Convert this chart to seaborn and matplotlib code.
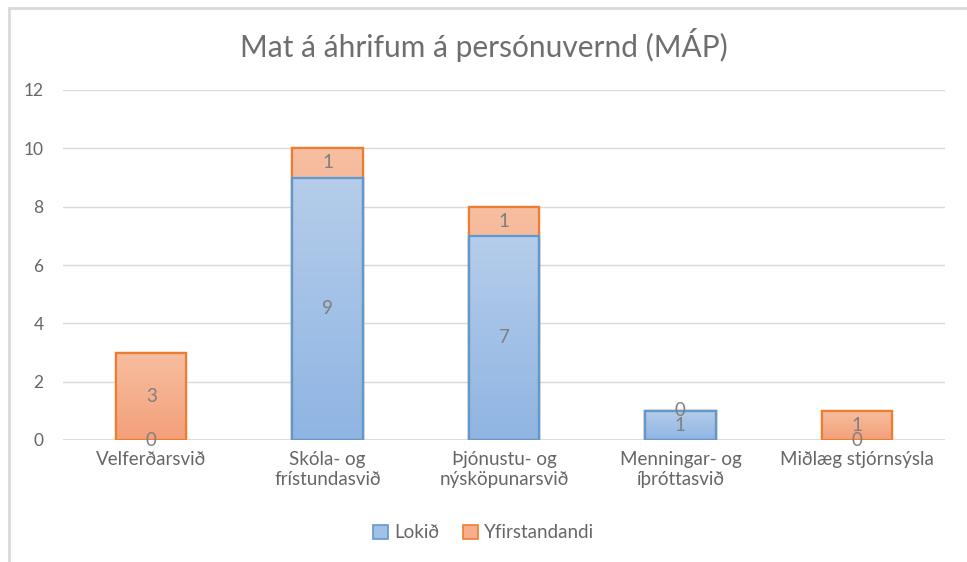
# map_chart.py
# stacked bars for the MÁP status per division
# excel-ish look: gradient fills, gray text, legend under the axis

import numpy as np
import pandas as pd
import matplotlib
matplotlib.use('Agg')
import matplotlib.pyplot as plt
from matplotlib.patches import Patch
from matplotlib.colors import LinearSegmentedColormap
import seaborn as sns

sns.set_theme(style='white')
plt.rcParams['font.family'] = ['Lato', 'DejaVu Sans']

# data
divisions = ['Velferðarsvið', 'Skóla- og\nfrístundasvið', 'Þjónustu- og\nnýsköpunarsvið',
             'Menningar- og\níþróttasvið', 'Miðlæg stjórnsýsla']
lokid = [0, 9, 7, 1, 0]
yfirstandandi = [3, 1, 1, 0, 1]
series_names = ['Lokið', 'Yfirstandandi']

df = pd.DataFrame({'svid': divisions, 'lokid': lokid, 'yfir': yfirstandandi})
df['total'] = df['lokid'] + df['yfir']

BLUE_EDGE, ORANGE_EDGE = '#5b9bd5', '#ed7d31'
blue_cmap = LinearSegmentedColormap.from_list('b', ['#8fb5e3', '#b5cdea'])
orange_cmap = LinearSegmentedColormap.from_list('o', ['#f4a07a', '#f7bea0'])
TXT = '#666666'
LBL = '#7f7f7f'

fig = plt.figure(figsize=(9.67, 5.62), dpi=100)
ax = fig.add_axes([63 / 967, 1 - 440 / 562, (945 - 63) / 967, 350 / 562])

# top segment drawn as the full stack, then the bottom series over it
sns.barplot(data=df, x='svid', y='total', color='#f6ae8c', width=0.4,
            edgecolor=ORANGE_EDGE, linewidth=1.6, saturation=1, ax=ax)
n_top = len(ax.patches)
sns.barplot(data=df, x='svid', y='lokid', color='#a3c1e7', width=0.4,
            edgecolor=BLUE_EDGE, linewidth=1.6, saturation=1, ax=ax)

# gradient fill clipped to each bar
grad = np.linspace(0, 1, 256).reshape(-1, 1)
for i, p in enumerate(ax.patches):
    x0, y0, w, h = p.get_x(), p.get_y(), p.get_width(), p.get_height()
    if h <= 0:
        continue
    cmap = orange_cmap if i < n_top else blue_cmap
    im = ax.imshow(grad, cmap=cmap, origin='lower', aspect='auto',
                   extent=[x0, x0 + w, y0, y0 + h], zorder=p.get_zorder() + 0.1)
    im.set_clip_path(p)
    # redraw the edge over the gradient
    ax.add_patch(plt.Rectangle((x0, y0), w, h, fill=False,
                               edgecolor=p.get_edgecolor(), linewidth=1.6,
                               zorder=p.get_zorder() + 0.2))
ax.set_xlim(-0.5, len(divisions) - 0.5)
ax.set_ylim(0, 12)

# data labels (middle of each segment) - zero segments sit on the boundary,
# so they collide with the neighbour label just like in the excel original
for i, (lo, yf) in enumerate(zip(lokid, yfirstandandi)):
    ax.text(i, lo / 2, str(lo), ha='center', va='center', color=LBL, fontsize=13.5, zorder=10)
    ax.text(i, lo + yf / 2, str(yf), ha='center', va='center', color=LBL, fontsize=13.5, zorder=10)

ax.set_yticks(range(0, 13, 2))
ax.yaxis.grid(True, color='#d9d9d9', linewidth=1)
ax.set_axisbelow(True)
for s in ax.spines.values():
    s.set_visible(False)
ax.axhline(0, color='#d9d9d9', linewidth=1.2, zorder=0.5)
ax.tick_params(axis='y', colors=TXT, labelsize=12.5, length=0, pad=14)
ax.tick_params(axis='x', colors=TXT, labelsize=13.5, length=0, pad=8)
ax.set_xlabel('')
ax.set_ylabel('')

fig.suptitle('Mat á áhrifum á persónuvernd (MÁP)', x=0.5, y=0.95,
             color='#6e6e6e', fontsize=21.5)

handles = [Patch(facecolor='#a3c1e7', edgecolor=BLUE_EDGE, linewidth=1.2),
           Patch(facecolor='#f6ae8c', edgecolor=ORANGE_EDGE, linewidth=1.2)]
fig.legend(handles, series_names, loc='center', bbox_to_anchor=(0.5, 1 - 533 / 562),
           ncol=2, frameon=False, fontsize=13.5, labelcolor=TXT,
           handlelength=0.8, handleheight=0.8, handletextpad=0.3, columnspacing=1.3)

# chart frame (top and left edges visible in the screenshot)
fig.add_artist(plt.Line2D([9 / 967, 1], [1 - 8 / 562] * 2, color='#d9d9d9',
                          linewidth=2, transform=fig.transFigure))
fig.add_artist(plt.Line2D([9 / 967] * 2, [0, 1 - 8 / 562], color='#d9d9d9',
                          linewidth=2, transform=fig.transFigure))

fig.savefig('out.png', dpi=100)
